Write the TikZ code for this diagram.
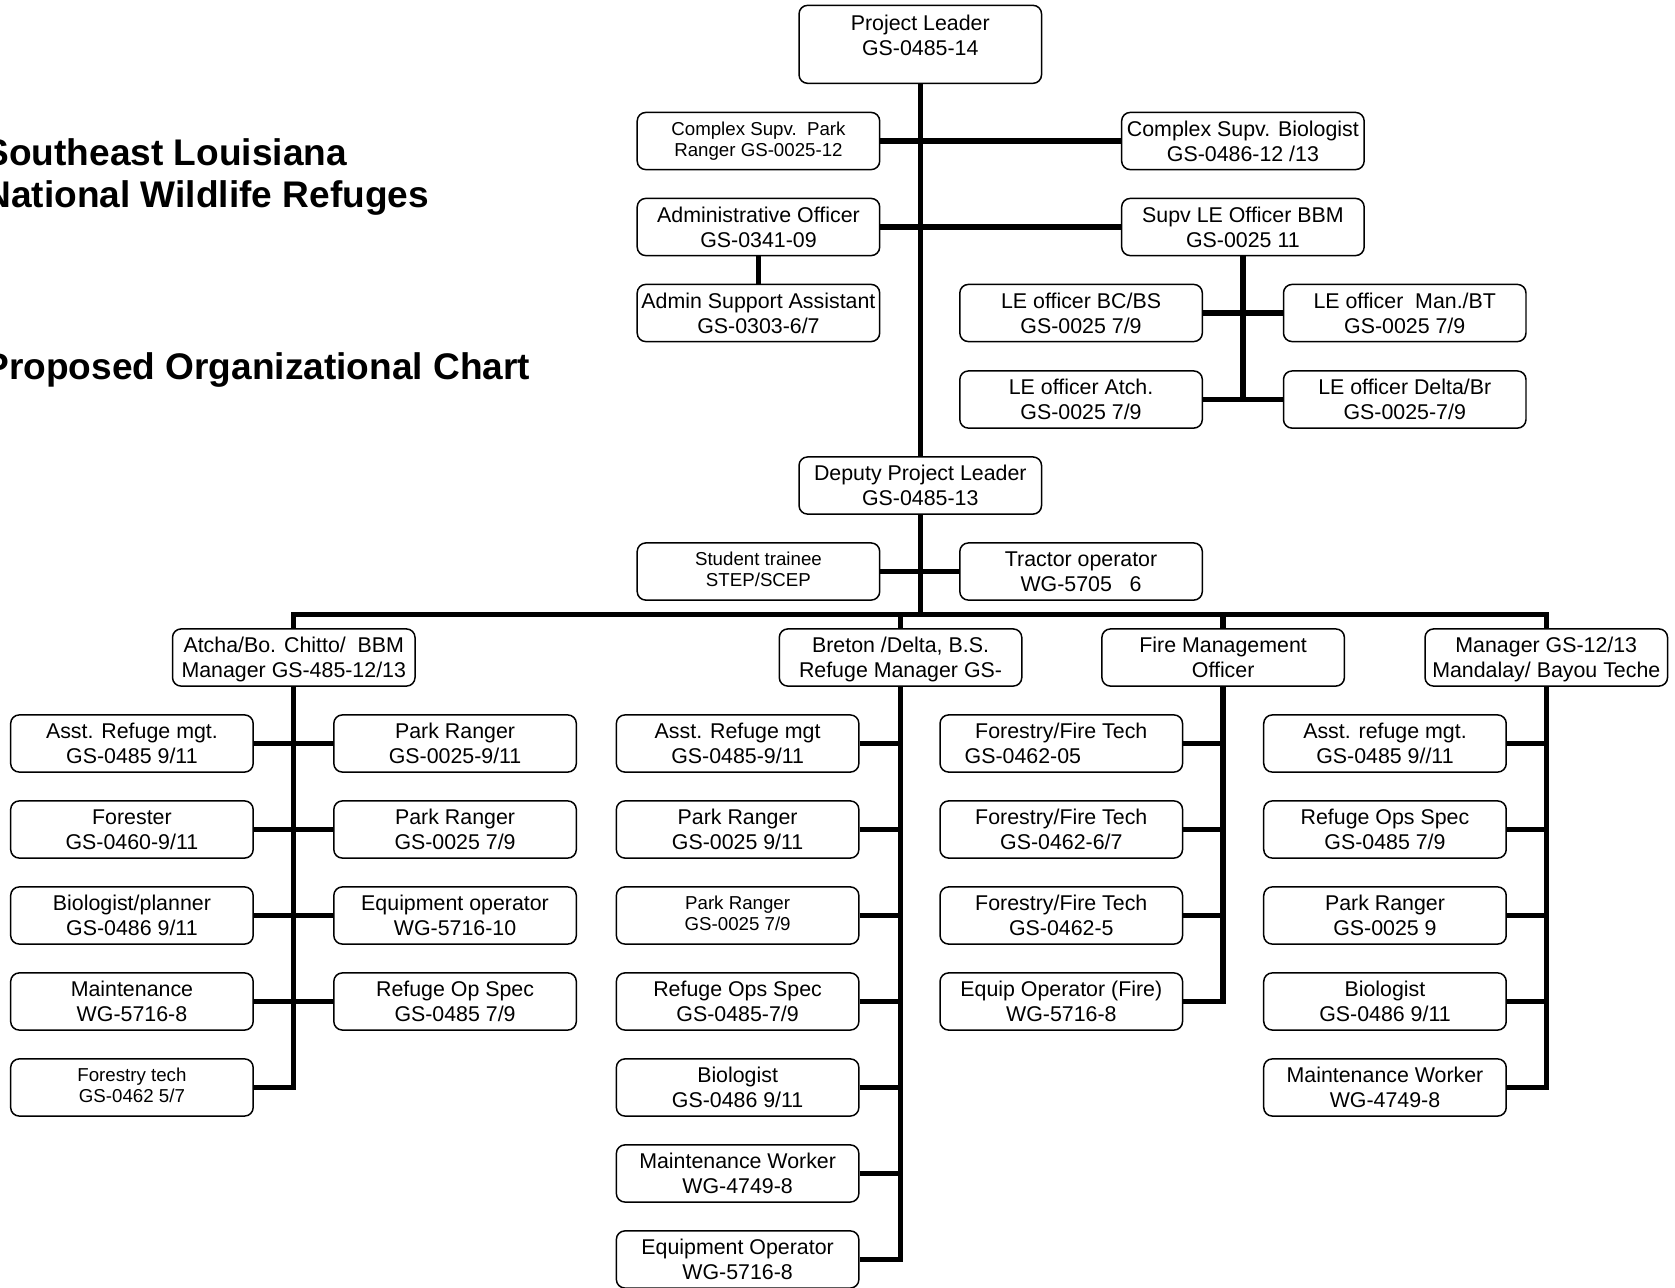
\documentclass[tikz,border=0pt]{standalone}
\usepackage{fontspec}
\setmainfont{Liberation Sans}
\newcommand\boxfont{\fontsize{10}{11.5}\selectfont}
\newcommand\smallboxfont{\fontsize{8.75}{9.75}\selectfont}
\newcommand\titlefont{\fontsize{17.35}{20}\selectfont\bfseries}
% two lines, second line without descender depth
\newcommand\twoline[2]{#1\\\raisebox{0pt}[\height][0pt]{#2}}
\newcommand\twosmall[2]{#1\\\raisebox{0pt}[\height][0pt]{#2}\rule[-2pt]{0pt}{2pt}}
\begin{document}
\begin{tikzpicture}[x=0.5pt,y=-0.5pt,
  box/.style={draw, fill=white, line width=0.7pt, rounded corners=4pt, minimum width=113.5pt, minimum height=26.75pt, align=center, inner sep=0pt, font=\boxfont},
  smallbox/.style={box, font=\smallboxfont},
  conn/.style={line width=2.5pt},
  title/.style={anchor=base west, inner sep=0pt, font=\titlefont}]
\useasboundingbox (0,0) rectangle (1568,1205);

% titles
\node[title] (t1) at (-15,155) {Southeast Louisiana};
\node[title] (t2) at (-15,194) {National Wildlife Refuges};
\node[title] (t3) at (-15,355) {Proposed Organizational Chart};

% top part
\node[box, minimum height=36.5pt] (pl) at (861.5,41.5) {Project Leader\\GS-0485-14\\[-3pt]\mbox{}};
\node[smallbox] (cspr) at (710,132) {\twosmall{Complex Supv.~~Park}{Ranger GS-0025-12}};
\node[box] (csbio) at (1163.5,132) {\twoline{Complex Supv. Biologist}{GS-0486-12 /13}};
\node[box] (ao) at (710,212.5) {\twoline{Administrative Officer}{GS-0341-09}};
\node[box] (sle) at (1163.5,212.5) {\twoline{Supv LE Officer BBM}{GS-0025 11}};
\node[box] (asa) at (710,293) {\twoline{Admin Support Assistant}{GS-0303-6/7}};
\node[box] (lebc) at (1012,293) {\twoline{LE officer BC/BS}{GS-0025 7/9}};
\node[box] (leman) at (1315,293) {\twoline{LE officer~~Man./BT}{GS-0025 7/9}};
\node[box] (leatch) at (1012,374) {\twoline{LE officer Atch.}{GS-0025 7/9}};
\node[box] (ledelta) at (1315,374) {\twoline{LE officer Delta/Br}{GS-0025-7/9}};
\node[box] (dpl) at (861.5,454.5) {\twoline{Deputy Project Leader}{GS-0485-13}};
\node[smallbox] (st) at (710,535) {\twosmall{Student trainee}{STEP/SCEP}};
\node[box] (tractor) at (1012,535) {\twoline{Tractor operator}{WG-5705~~~6}};

% managers
\node[box] (atcha) at (275,615.5) {\twoline{Atcha/Bo. Chitto/~~BBM}{Manager GS-485-12/13}};
\node[box] (breton) at (843,615.5) {\twoline{Breton /Delta, B.S.}{Refuge Manager GS-}};
\node[box] (fire) at (1145,615.5) {\twoline{Fire Management}{Officer}};
\node[box] (mgr) at (1447.5,615.5) {\twoline{Manager GS-12/13}{Mandalay/ Bayou Teche}};

% Atcha column
\node[box] (a1) at (123.5,696) {\twoline{Asst. Refuge mgt.}{GS-0485 9/11}};
\node[box] (a2) at (123.5,776.5) {\twoline{Forester}{GS-0460-9/11}};
\node[box] (a3) at (123.5,857) {\twoline{Biologist/planner}{GS-0486 9/11}};
\node[box] (a4) at (123.5,937.5) {\twoline{Maintenance}{WG-5716-8}};
\node[smallbox] (a5) at (123.5,1018) {\twosmall{Forestry tech}{GS-0462 5/7}};
\node[box] (p1) at (426,696) {\twoline{Park Ranger}{GS-0025-9/11}};
\node[box] (p2) at (426,776.5) {\twoline{Park Ranger}{GS-0025 7/9}};
\node[box] (p3) at (426,857) {\twoline{Equipment operator}{WG-5716-10}};
\node[box] (p4) at (426,937.5) {\twoline{Refuge Op Spec}{GS-0485 7/9}};

% Breton column
\node[box] (b1) at (690.5,696) {\twoline{Asst. Refuge mgt}{GS-0485-9/11}};
\node[box] (b2) at (690.5,776.5) {\twoline{Park Ranger}{GS-0025 9/11}};
\node[smallbox] (b3) at (690.5,857) {\twosmall{Park Ranger}{GS-0025 7/9}};
\node[box] (b4) at (690.5,937.5) {\twoline{Refuge Ops Spec}{GS-0485-7/9}};
\node[box] (b5) at (690.5,1018) {\twoline{Biologist}{GS-0486 9/11}};
\node[box] (b6) at (690.5,1098.5) {\twoline{Maintenance Worker}{WG-4749-8}};
\node[box] (b7) at (690.5,1179) {\twoline{Equipment Operator}{WG-5716-8}};

% Fire column
\node[box] (f1) at (993.5,696) {\twoline{Forestry/Fire Tech}{\hbox{GS-0462-05\hspace{36pt}}}};
\node[box] (f2) at (993.5,776.5) {\twoline{Forestry/Fire Tech}{GS-0462-6/7}};
\node[box] (f3) at (993.5,857) {\twoline{Forestry/Fire Tech}{GS-0462-5}};
\node[box] (f4) at (993.5,937.5) {\twoline{Equip Operator (Fire)}{WG-5716-8}};

% Manager column
\node[box] (m1) at (1296.5,696) {\twoline{Asst. refuge mgt.}{GS-0485 9//11}};
\node[box] (m2) at (1296.5,776.5) {\twoline{Refuge Ops Spec}{GS-0485 7/9}};
\node[box] (m3) at (1296.5,857) {\twoline{Park Ranger}{GS-0025 9}};
\node[box] (m4) at (1296.5,937.5) {\twoline{Biologist}{GS-0486 9/11}};
\node[box] (m5) at (1296.5,1018) {\twoline{Maintenance Worker}{WG-4749-8}};

% connectors
\coordinate (barY) at (0,575);
\draw[conn] (pl.south) -- (dpl.north);
\draw[conn] (cspr.east) -- (csbio.west);
\draw[conn] (ao.east) -- (sle.west);
\draw[conn] (ao.south) -- (asa.north);
\draw[conn] (sle.south) -- (sle.south |- leatch.east);
\draw[conn] (lebc.east) -- (leman.west);
\draw[conn] (leatch.east) -- (ledelta.west);
\draw[conn] (st.east) -- (tractor.west);
\draw[conn] (dpl.south) -- (dpl.south |- barY);
\draw[conn] (atcha.north) -- (atcha.north |- barY) -- (mgr.north |- barY) -- (mgr.north);
\draw[conn] (breton.north) -- (breton.north |- barY);
\draw[conn] (fire.north) -- (fire.north |- barY);

\draw[conn] (atcha.south) |- (a5.east);
\foreach \i in {1,...,4} {\draw[conn] (a\i.east) -- (p\i.west);}
\draw[conn] (breton.south) |- (b7.east);
\foreach \i in {1,...,6} {\draw[conn] (b\i.east) -- (breton.south |- b\i.east);}
\draw[conn] (fire.south) |- (f4.east);
\foreach \i in {1,...,3} {\draw[conn] (f\i.east) -- (fire.south |- f\i.east);}
\draw[conn] (mgr.south) |- (m5.east);
\foreach \i in {1,...,4} {\draw[conn] (m\i.east) -- (mgr.south |- m\i.east);}
\end{tikzpicture}
\end{document}
